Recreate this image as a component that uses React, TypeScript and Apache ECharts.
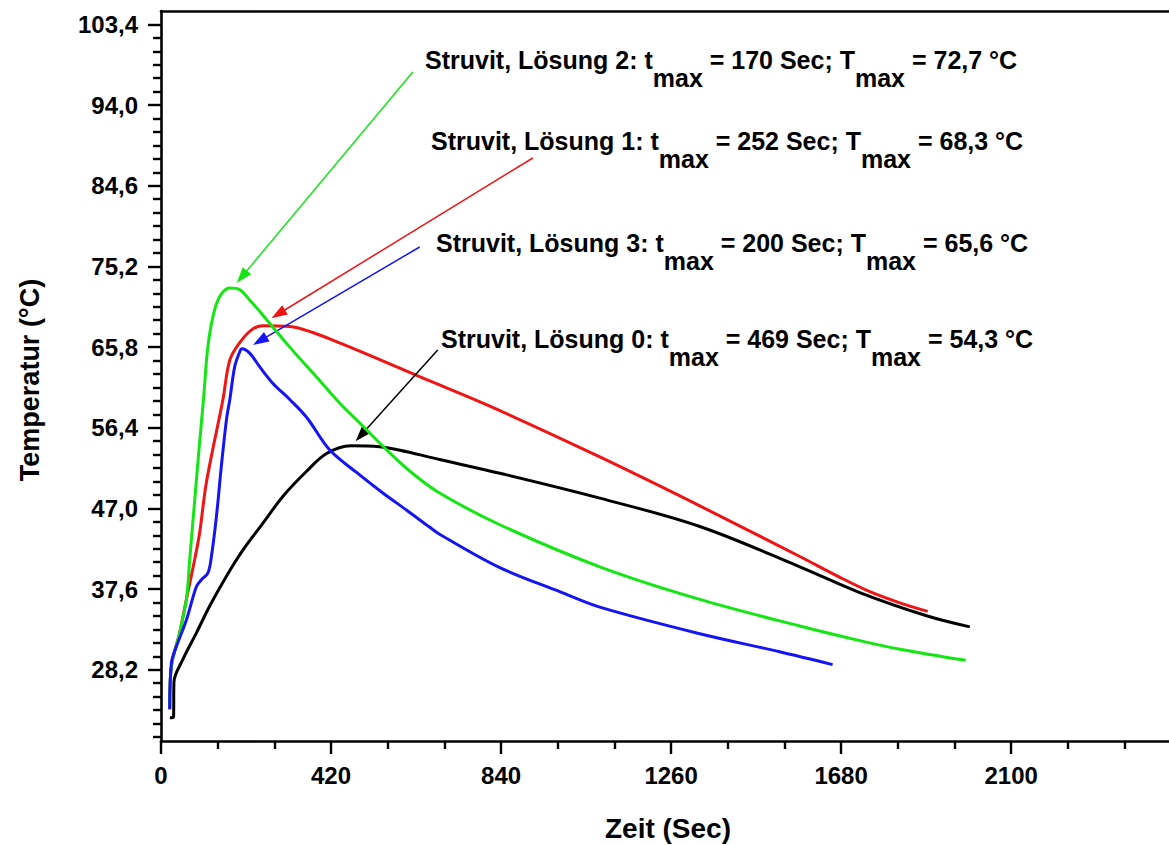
import React, { useEffect, useRef } from 'react';
import * as echarts from 'echarts';

// Temperature curves [time in s, temperature in °C]
const loesung0 = [
  [22, 22.6], [31, 22.7], [32, 26.8], [54, 29.4], [87.5, 32.5], [120, 35.6], [161.6, 39.1],
  [203, 42.2], [252, 45.3], [301, 48.4], [359, 51.3], [409, 53.4], [469, 54.3], [540, 54.2],
  [607, 53.6], [688, 52.7], [837, 51.1], [1084, 48.2], [1331, 44.9], [1578, 40.2],
  [1726, 37.2], [1891, 34.5], [1998, 33.2],
];
const loesung1 = [
  [21.5, 23.6], [25.7, 28.6], [46, 32.5], [62.7, 36.4], [83, 41.0], [95.6, 44.2], [112, 50.0],
  [153, 59.7], [170, 64.3], [194, 66.3], [226, 67.9], [252, 68.3], [318, 68.2], [375, 67.5],
  [441, 66.3], [523, 64.7], [607, 63.0], [688, 61.4], [837, 58.4], [1084, 53.0], [1331, 47.3],
  [1578, 41.4], [1676, 39.0], [1751, 37.3], [1825, 36.0], [1894, 35.0],
];
const loesung2 = [
  [21.5, 23.9], [25.7, 28.6], [46, 32.5], [62.7, 36.4], [70.9, 41.0], [83.3, 48.0], [95.6, 54.8],
  [105, 59.7], [115, 65.5], [128, 69.3], [145, 71.7], [170, 72.7], [194, 72.5], [219, 71.3],
  [261, 69.0], [318, 65.8], [375, 62.8], [441, 59.3], [490, 57.0], [558, 53.8], [621, 51.1],
  [688, 48.8], [837, 45.1], [1084, 40.2], [1331, 36.4], [1578, 33.3], [1726, 31.6],
  [1825, 30.6], [1988, 29.3],
];
const loesung3 = [
  [21.5, 23.6], [25.7, 29.0], [38, 30.9], [62.7, 34.0], [87.5, 37.9], [99.8, 38.7], [116, 39.5],
  [124.5, 41.4], [137, 46.1], [149, 51.9], [161.6, 57.3], [170, 59.7], [182, 63.5], [194, 65.2],
  [200, 65.6], [219, 65.1], [244, 63.5], [276, 61.6], [318, 59.7], [360, 57.6], [417, 53.8],
  [483, 51.2], [548, 48.8], [607, 46.8], [664, 44.8], [688, 44.0], [837, 40.1], [985, 37.3],
  [1084, 35.5], [1331, 32.4], [1528, 30.3], [1659, 28.8],
];

// Peak annotations: label values and arrow from label to peak
const peakNames = ['Struvit, Lösung 0', 'Struvit, Lösung 1', 'Struvit, Lösung 2', 'Struvit, Lösung 3'];
const peakTimes = [469, 252, 170, 200];
const peakTemps = [54.3, 68.3, 72.7, 65.6];
const arrowFrom = [[683.5, 65.47], [918.5, 87.84], [622, 97.86], [639, 77.47]];
const arrowTo = [[494, 55.52], [289.5, 69.66], [199.6, 73.99], [244.3, 66.53]];

// Axis ticks
const xMajorTicks = [0, 420, 840, 1260, 1680, 2100];
const xMinorTicks = [140, 280, 560, 700, 980, 1120, 1400, 1540, 1820, 1960, 2240, 2380];
const yMajorTicks = [28.2, 37.6, 47.0, 56.4, 65.8, 75.2, 84.6, 94.0, 103.4];

const X_MIN = 0;
const X_MAX = 2490;
const Y_MIN = 19.9;
const Y_MAX = 104.97;

const FONT = '"Liberation Sans", Arial, sans-serif';
const COLORS = ['#000000', '#f01414', '#14e614', '#1414f5'];

// five minor ticks between neighbouring major ticks, plus those below the first major
function buildMinorY(): number[] {
  const step = (yMajorTicks[1] - yMajorTicks[0]) / 6;
  const out: number[] = [];
  for (let k = 5; k >= 1; k--) {
    const v = yMajorTicks[0] - k * step;
    if (v > Y_MIN) out.push(+v.toFixed(4));
  }
  for (let i = 0; i < yMajorTicks.length - 1; i++) {
    for (let k = 1; k <= 5; k++) out.push(+(yMajorTicks[i] + k * step).toFixed(4));
  }
  return out;
}

const fmtComma = (v: number) => v.toFixed(1).replace('.', ',');

export default function App() {
  const ref = useRef<HTMLDivElement>(null);

  useEffect(() => {
    document.body.style.margin = '0';
    if (!ref.current) return;
    const chart = echarts.init(ref.current, null, { renderer: 'svg' });

    const lineOrder = [2, 1, 3, 0];
    const labelPos = [
      [441, 326],
      [431, 128],
      [425, 47],
      [436, 230],
    ];

    const series: any[] = [loesung0, loesung1, loesung2, loesung3].map((d, i) => ({
      type: 'line',
      name: peakNames[i],
      data: d,
      xAxisIndex: 0,
      yAxisIndex: 0,
      showSymbol: false,
      smooth: 0.35,
      lineStyle: { color: COLORS[i], width: 3 },
      z: 3 + i,
      markLine: {
        silent: true,
        symbol: ['none', 'triangle'],
        symbolSize: [11, 16],
        label: { show: false },
        lineStyle: { color: COLORS[i], width: 1.5, type: 'solid' },
        itemStyle: { color: COLORS[i] },
        data: [[{ coord: arrowFrom[i] }, { coord: arrowTo[i] }]],
      },
    }));

    const richMain = { fontSize: 25, fontWeight: 'bold', fontFamily: FONT, fill: '#000', lineHeight: 25, verticalAlign: 'top' };
    const richSub = { ...richMain, padding: [18, 0, 0, 0] };

    const annotationTexts = lineOrder.map((i) => ({
      type: 'text',
      x: labelPos[i][0],
      y: labelPos[i][1],
      style: {
        text: `{m|${peakNames[i]}: t}{s|max}{m| = ${peakTimes[i]} Sec; T}{s|max}{m| = ${fmtComma(peakTemps[i])} °C}`,
        rich: { m: richMain, s: richSub },
        verticalAlign: 'top',
      },
      z: 10,
    }));

    const axisLineStyle = { color: '#000', width: 2.6 };
    const labelStyle = { color: '#000', fontSize: 24, fontWeight: 'bold', fontFamily: FONT };

    chart.setOption({
      animation: false,
      backgroundColor: '#fff',
      grid: { left: 161, top: 11, right: 0, bottom: 104, containLabel: false },
      xAxis: [
        {
          type: 'value', min: X_MIN, max: X_MAX, position: 'bottom',
          axisLine: { show: true, lineStyle: axisLineStyle },
          axisTick: { show: true, customValues: xMajorTicks, length: 13, lineStyle: { width: 2.4, color: '#000' } },
          axisLabel: { show: true, customValues: xMajorTicks, margin: 22, formatter: (v: number) => String(v), ...labelStyle },
          splitLine: { show: false },
        },
        {
          type: 'value', min: X_MIN, max: X_MAX, position: 'bottom',
          axisLine: { show: false },
          axisTick: { show: true, customValues: xMinorTicks, length: 8, lineStyle: { width: 2.4, color: '#000' } },
          axisLabel: { show: false },
          splitLine: { show: false },
        },
        {
          type: 'value', min: X_MIN, max: X_MAX, position: 'top',
          axisLine: { show: true, lineStyle: axisLineStyle },
          axisTick: { show: false },
          axisLabel: { show: false },
          splitLine: { show: false },
        },
      ],
      yAxis: [
        {
          type: 'value', min: Y_MIN, max: Y_MAX, position: 'left',
          axisLine: { show: true, lineStyle: axisLineStyle },
          axisTick: { show: true, customValues: yMajorTicks, length: 13, lineStyle: { width: 2.4, color: '#000' } },
          axisLabel: { show: true, customValues: yMajorTicks, margin: 23, formatter: (v: number) => fmtComma(v), ...labelStyle },
          splitLine: { show: false },
        },
        {
          type: 'value', min: Y_MIN, max: Y_MAX, position: 'left',
          axisLine: { show: false },
          axisTick: { show: true, customValues: buildMinorY(), length: 8, lineStyle: { width: 2.4, color: '#000' } },
          axisLabel: { show: false },
          splitLine: { show: false },
        },
      ],
      series,
      graphic: [
        ...annotationTexts,
        {
          type: 'text', x: 30, y: 380, rotation: Math.PI / 2,
          style: { text: 'Temperatur (°C)', fontSize: 27, fontWeight: 'bold', fontFamily: FONT, fill: '#000', align: 'center', verticalAlign: 'middle' },
        },
        {
          type: 'text', x: 668, y: 828,
          style: { text: 'Zeit (Sec)', fontSize: 28, fontWeight: 'bold', fontFamily: FONT, fill: '#000', align: 'center', verticalAlign: 'middle' },
        },
      ],
    });

    return () => chart.dispose();
  }, []);

  return <div ref={ref} style={{ width: 1169, height: 845 }} />;
}
